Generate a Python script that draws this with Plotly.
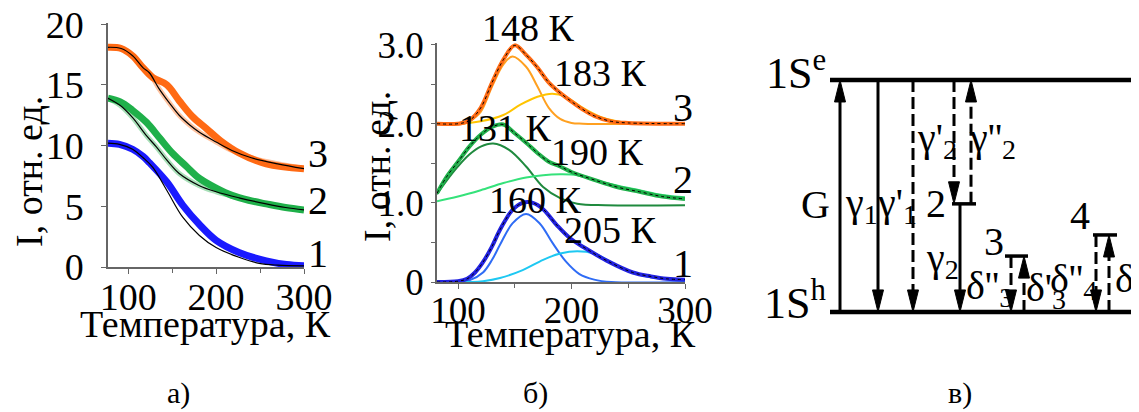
import plotly.graph_objects as go

# The page body has an 8 px margin; the figure is sized so that it fills the rest of the window.
OFF = 8
W, H = 1139 - OFF, 412 - OFF
FONT = "Liberation Serif"

# ---------------- Panel а): integrated intensity vs temperature ----------------
a3_T = [77, 92, 105, 117, 128, 144, 158, 173, 189, 205, 226, 257, 300]
a3_I = [18.1, 18.0, 17.4, 16.4, 15.6, 15.0, 13.7, 12.4, 11.4, 10.4, 9.4, 8.5, 8.1]
a3_fit_T = [77, 92, 105, 117, 124, 135, 147, 158, 170, 181, 200, 218, 240, 270, 300]
a3_fit_I = [18.1, 18.0, 17.4, 16.4, 16.0, 14.7, 13.5, 12.5, 11.7, 11.1, 10.3, 9.6, 9.0, 8.5, 8.1]

a2_T = [77, 91, 105, 121, 136, 150, 166, 181, 200, 218, 237, 257, 279, 300]
a2_I = [13.9, 13.6, 12.9, 11.9, 10.6, 9.4, 8.3, 7.3, 6.5, 5.9, 5.5, 5.2, 4.9, 4.7]
a2_fit_T = [77, 91, 105, 121, 132, 144, 158, 181, 200, 226, 257, 279, 300]
a2_fit_I = [13.9, 13.3, 12.3, 10.8, 9.9, 8.8, 7.7, 6.7, 6.2, 5.7, 5.2, 4.9, 4.7]

a1_T = [77, 90, 105, 117, 124, 144, 162, 181, 200, 226, 257, 280, 300]
a1_I = [10.2, 10.1, 9.7, 9.1, 8.6, 7.0, 5.1, 3.5, 2.2, 1.2, 0.5, 0.2, 0.1]
a1_fit_T = [77, 90, 105, 117, 128, 144, 162, 181, 200, 226, 249, 270, 300]
a1_fit_I = [10.2, 10.1, 9.7, 9.0, 8.2, 6.3, 4.1, 2.6, 1.6, 0.8, 0.3, 0.15, 0.1]

# ---------------- Panel б): spectra decomposition ----------------
b3_T = [81.5, 100, 110, 120, 130, 140, 150, 160, 170, 180, 190, 200, 210, 220, 235, 250, 300]
b3_v = [2.0, 2.0, 2.04, 2.2, 2.52, 2.81, 2.99, 2.87, 2.71, 2.52, 2.39, 2.28, 2.18, 2.10, 2.03, 2.01, 2.0]
b3a_T = [81.5, 105, 110, 120, 130, 140, 148, 160, 170, 180, 190, 200, 210, 300]
b3a_v = [2.0, 2.0, 2.03, 2.15, 2.47, 2.75, 2.85, 2.72, 2.47, 2.2, 2.06, 2.01, 2.0, 2.0]
b3b_T = [81.5, 100, 120, 140, 155, 170, 183, 195, 210, 225, 240, 260, 300]
b3b_v = [2.0, 2.0, 2.03, 2.11, 2.24, 2.34, 2.38, 2.34, 2.2, 2.09, 2.03, 2.0, 2.0]

b2_T = [81.5, 90, 100, 110, 120, 130, 140, 150, 160, 170, 180, 190, 200, 220, 240, 260, 280, 300]
b2_v = [1.12, 1.33, 1.52, 1.71, 1.86, 1.96, 1.99, 1.88, 1.76, 1.63, 1.52, 1.46, 1.39, 1.29, 1.20, 1.14, 1.08, 1.05]
b2a_T = [81.5, 90, 100, 110, 120, 131, 145, 160, 175, 190, 205, 230, 300]
b2a_v = [1.11, 1.28, 1.46, 1.61, 1.71, 1.75, 1.67, 1.46, 1.20, 1.06, 0.99, 0.97, 0.97]
b2b_T = [81.5, 100, 120, 140, 160, 175, 190, 205, 220, 240, 260, 280, 300]
b2b_v = [1.02, 1.08, 1.16, 1.25, 1.32, 1.35, 1.36, 1.35, 1.29, 1.22, 1.16, 1.10, 1.07]

b1_T = [81.5, 100, 108, 115, 122, 130, 137, 148, 157, 166, 175, 187, 199, 213, 231, 254, 270, 284, 300]
b1_v = [0.0, 0.01, 0.04, 0.12, 0.25, 0.45, 0.66, 0.91, 1.0, 1.0, 0.92, 0.72, 0.55, 0.42, 0.27, 0.12, 0.07, 0.04, 0.03]
b1a_T = [81.5, 100, 110, 122, 130, 137, 148, 160, 172, 183, 195, 207, 220, 235, 300]
b1a_v = [0.0, 0.0, 0.02, 0.12, 0.28, 0.47, 0.74, 0.86, 0.74, 0.50, 0.26, 0.10, 0.03, 0.0, 0.0]
b1b_T = [81.5, 110, 122, 137, 157, 175, 190, 205, 220, 240, 260, 280, 300]
b1b_v = [0.0, 0.0, 0.01, 0.05, 0.15, 0.28, 0.36, 0.39, 0.36, 0.21, 0.09, 0.04, 0.02]

peak_labels = ["148 К", "183 К", "131 К", "190 К", "160 К", "205 К"]
curve_numbers = ["3", "2", "1"]

# ---------------- Panel в): level scheme ----------------
E_e, E_h = 1.0, 0.0                 # 1S^e and 1S^h
E2, E3, E4 = 0.466, 0.241, 0.332    # trap levels 2, 3, 4
# arrows: (x, from, to, dashed)
arrows = [
    (110, E_h, E_e, False),
    (148, E_e, E_h, False),
    (183, E_e, E_h, True),
    (224, E_e, E2, True),
    (241, E2, E_e, True),
    (230, E2, E_h, False),
    (281, E3, E_h, True),
    (294, E_h, E3, True),
    (366, E4, E_h, True),
    (379, E_h, E4, True),
]
levels = [(100, 420, E_e), (100, 420, E_h), (222, 246, E2), (275, 298, E3), (363, 387, E4)]


def dx(px):  # window pixel -> paper x
    return (px - OFF) / W


def dy(py):  # window pixel -> paper y
    return 1 - (py - OFF) / H


fig = go.Figure()

C_OR, C_GR, C_BL = "#ff6a14", "#1fb04a", "#1a1aff"

# panel a traces
for T, I, fT, fI, col, light in [
    (a3_T, a3_I, a3_fit_T, a3_fit_I, C_OR, "#ffc3a0"),
    (a2_T, a2_I, a2_fit_T, a2_fit_I, C_GR, "#a8e0b8"),
    (a1_T, a1_I, a1_fit_T, a1_fit_I, C_BL, None),
]:
    if light:
        fig.add_trace(go.Scatter(x=fT, y=fI, mode="lines", line=dict(color=light, width=5, shape="spline"),
                                 xaxis="x", yaxis="y", hoverinfo="skip"))
    fig.add_trace(go.Scatter(x=T, y=I, mode="lines", line=dict(color=col, width=7, shape="spline"),
                             xaxis="x", yaxis="y"))
    fig.add_trace(go.Scatter(x=fT, y=fI, mode="lines", line=dict(color="black", width=1.2, shape="spline"),
                             xaxis="x", yaxis="y"))

# panel b traces
for comps, tot, col in [
    ([(b3a_T, b3a_v, "#ffa020"), (b3b_T, b3b_v, "#ffc400")], (b3_T, b3_v), C_OR),
    ([(b2a_T, b2a_v, "#1f8a3e"), (b2b_T, b2b_v, "#35e27a")], (b2_T, b2_v), C_GR),
    ([(b1a_T, b1a_v, "#2f6cf5"), (b1b_T, b1b_v, "#1ec8f2")], (b1_T, b1_v), "#2222e0"),
]:
    for cT, cv, cc in comps:
        fig.add_trace(go.Scatter(x=cT, y=cv, mode="lines", line=dict(color=cc, width=2, shape="spline"),
                                 xaxis="x2", yaxis="y2"))
    fig.add_trace(go.Scatter(x=tot[0], y=tot[1], mode="lines", line=dict(color=col, width=4, shape="spline"),
                             xaxis="x2", yaxis="y2"))
    fig.add_trace(go.Scatter(x=tot[0], y=tot[1], mode="lines",
                             line=dict(color="black", width=1, dash="3px,3px", shape="spline"),
                             xaxis="x2", yaxis="y2"))

# invisible trace to create panel c axes
fig.add_trace(go.Scatter(x=[0], y=[0], mode="markers", marker=dict(opacity=0), xaxis="x3", yaxis="y3",
                         hoverinfo="skip"))

shapes = []
HEAD_L, HEAD_W = 0.095, 5.5
for x, e0, e1, dashed in arrows:
    up = e1 > e0
    base = e1 - HEAD_L if up else e1 + HEAD_L
    shapes.append(dict(type="line", xref="x3", yref="y3", x0=x, x1=x, y0=e0, y1=base,
                       line=dict(color="black", width=3, dash="12px,5px" if dashed else "solid")))
    shapes.append(dict(type="path", xref="x3", yref="y3",
                       path=f"M {x-HEAD_W},{base} L {x+HEAD_W},{base} L {x},{e1} Z",
                       fillcolor="black", line=dict(color="black", width=1)))
for x0, x1, e in levels:
    shapes.append(dict(type="line", xref="x3", yref="y3", x0=x0, x1=x1, y0=e, y1=e,
                       line=dict(color="black", width=4.5 if x1 > 400 else 3.5)))

annotations = []


def txt(text, px, py, size=38, angle=0, xanchor="center"):
    annotations.append(dict(text=text, x=dx(px), y=dy(py), xref="paper", yref="paper", showarrow=False,
                            font=dict(family=FONT, size=size, color="black"), textangle=angle,
                            xanchor=xanchor, yanchor="middle"))


# panel a labels
txt("I, отн. ед.", 29, 172, 38, -90)
txt("Температура, К", 205, 324, 38)
for s, py in zip(curve_numbers, [153, 200, 253]):
    txt(s, 318, py, 40)
# panel b labels
txt("I, отн. ед.", 377, 167, 38, -90)
txt("Температура, К", 570, 334, 38)
for s, (px, py) in zip(peak_labels, [(528, 28), (600, 73), (505, 128), (597, 152), (535, 200), (610, 230)]):
    txt(s, px, py, 38)
for s, py in zip(curve_numbers, [107, 180, 263]):
    txt(s, 683, py, 40)
# panel c labels
txt("1S<sup>e</sup>", 828, 70, 44, xanchor="right")
txt("1S<sup>h</sup>", 828, 300, 44, xanchor="right")
for s, px, py in [("G", 815, 204), ("γ<sub>1</sub>", 861, 205), ("γ'<sub>1</sub>", 897, 205),
                  ("γ'<sub>2</sub>", 937, 140), ("γ''<sub>2</sub>", 992, 140), ("2", 936, 203),
                  ("γ<sub>2</sub>", 942, 260), ("3", 994, 242), ("δ''<sub>3</sub>", 990, 288),
                  ("δ'<sub>3</sub>", 1046, 290), ("δ''<sub>4</sub>", 1073, 281), ("4", 1080, 215)]:
    txt(s, px, py, 40)
txt("δ'<sub>4</sub>", 1113, 281, 40, xanchor="left")
# sub-figure letters
txt("а)", 178, 393, 30)
txt("б)", 535, 393, 30)
txt("в)", 960, 393, 30)

axis_common = dict(showgrid=False, zeroline=False, showline=True, linecolor="#666666", linewidth=1.5,
                   ticks="outside", tickcolor="#666666", tickwidth=1.2, automargin=False,
                   ticklabeloverflow="allow",
                   tickfont=dict(family=FONT, size=38, color="black"))
font37 = dict(family=FONT, size=37, color="black")

fig.update_layout(
    width=W, height=H, margin=dict(l=0, r=0, t=0, b=0, pad=0, autoexpand=False),
    paper_bgcolor="white", plot_bgcolor="white", showlegend=False,
    font=dict(family=FONT, size=38, color="black"),
    xaxis=dict(domain=[dx(108), dx(304)], range=[77, 300], anchor="y", tickvals=[100, 200, 300], ticklen=5,
               ticklabelstandoff=-9,
               minor=dict(tickvals=[150, 250], ticks="outside", ticklen=4, tickcolor="#666666"),
               **axis_common),
    yaxis=dict(domain=[dy(267), dy(23)], range=[0, 20.1], anchor="x", tickvals=[0, 5, 10, 15, 20],
               ticklen=5, ticklabelstandoff=10, **axis_common),
    xaxis2=dict(domain=[dx(437), dx(685)], range=[81.5, 300], anchor="y2", tickvals=[100, 200, 300], ticklen=5,
                ticklabelstandoff=-10,
                minor=dict(tickvals=[150, 250], ticks="outside", ticklen=4, tickcolor="#666666"),
                **{**axis_common, "tickfont": font37}),
    yaxis2=dict(domain=[dy(282), dy(43)], range=[0, 3.02], anchor="x2", tickvals=[0, 1, 2, 3],
                ticktext=["0", "1.0", "2.0", "3.0"], ticklen=4,
                minor=dict(tickvals=[0.5, 1.5, 2.5], ticks="outside", ticklen=4, tickcolor="#666666"),
                **{**axis_common, "tickfont": font37}),
    xaxis3=dict(domain=[dx(730), 1], range=[0, 409], anchor="y3", visible=False),
    yaxis3=dict(domain=[0, 1], range=[-0.431, 1.310], anchor="x3", visible=False),
    shapes=shapes, annotations=annotations,
)

fig.write_html("out.html")
